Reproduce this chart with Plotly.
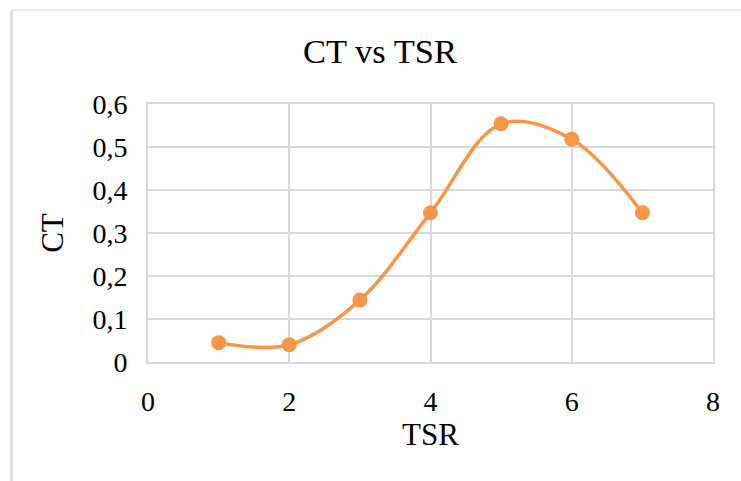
import plotly.graph_objects as go

# Thrust coefficient against tip speed ratio
tsr = [1, 2, 3, 4, 5, 6, 7]
ct = [0.045, 0.040, 0.144, 0.347, 0.554, 0.518, 0.347]

x_ticks = [0, 2, 4, 6, 8]
y_ticks = [0, 0.1, 0.2, 0.3, 0.4, 0.5, 0.6]

orange = "#F79646"
grid = "#D9D9D9"
serif = "Times New Roman, Liberation Serif, serif"

fig = go.Figure(
    go.Scatter(
        x=tsr,
        y=ct,
        mode="lines+markers",
        line=dict(color=orange, width=3.5, shape="spline", smoothing=1),
        marker=dict(color=orange, size=15),
        showlegend=False,
    )
)

axis_common = dict(
    showgrid=True,
    gridcolor=grid,
    gridwidth=2,
    zeroline=False,
    showline=True,
    mirror=True,
    linecolor=grid,
    linewidth=2,
    ticks="",
    tickfont=dict(family=serif, size=28, color="#000000"),
    title_font=dict(family=serif, size=31, color="#000000"),
)

fig.update_xaxes(
    range=[0, 8],
    tickvals=x_ticks,
    ticklabelstandoff=13,
    title_text="TSR",
    title_standoff=6,
    **axis_common,
)
fig.update_yaxes(
    range=[0, 0.6],
    tickvals=y_ticks,
    ticklabelstandoff=13,
    title_text="CT",
    title_standoff=20,
    **axis_common,
)

# Outer chart frame (top and left edges)
fig.add_shape(type="line", xref="paper", yref="paper",
              x0=-0.2416, x1=1.08, y0=1.3643, y1=1.3643,
              line=dict(color=grid, width=1))
fig.add_shape(type="line", xref="paper", yref="paper",
              x0=-0.2416, x1=-0.2416, y0=1.3643, y1=-0.55,
              line=dict(color=grid, width=2.5))

fig.update_layout(
    width=741,
    height=481,
    margin=dict(l=148, r=28, t=104, b=119),
    paper_bgcolor="#FFFFFF",
    plot_bgcolor="#FFFFFF",
    separators=", ",
    title=dict(
        text="CT vs TSR",
        x=380 / 741,
        xref="container",
        xanchor="center",
        y=1 - 51 / 481,
        yref="container",
        yanchor="middle",
        font=dict(family=serif, size=34.5, color="#000000"),
    ),
)

fig.write_html("out.html")
